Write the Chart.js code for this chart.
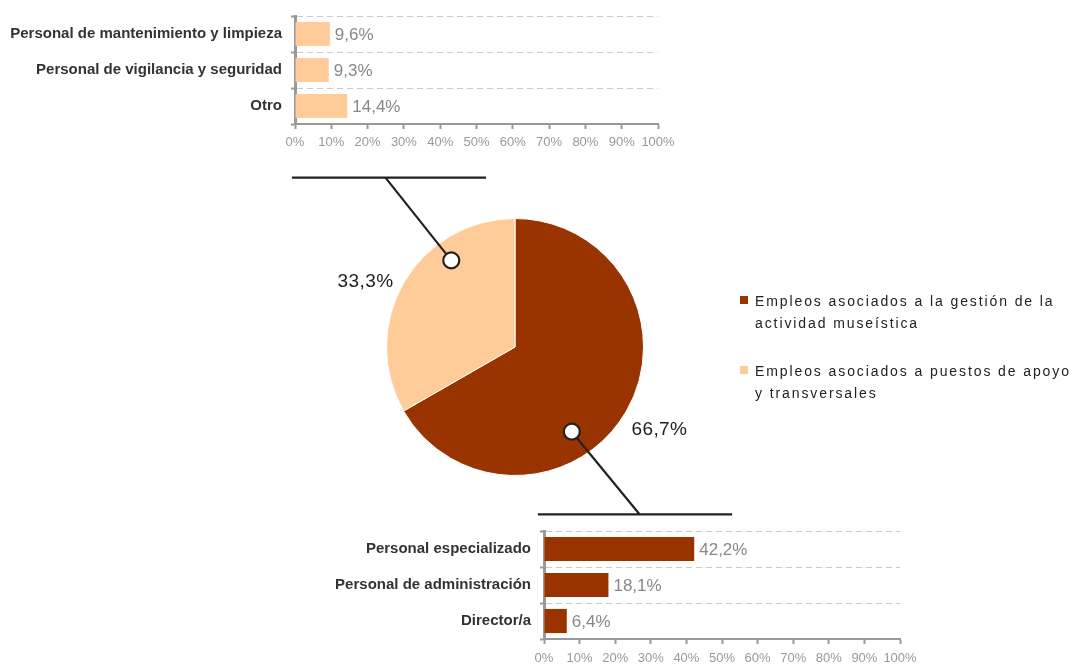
<!DOCTYPE html>
<html lang="es">

<head>
    <meta charset="UTF-8">
    <title>Empleo en museos</title>
    <style>
        * {
            margin: 0;
            padding: 0;
            box-sizing: border-box;
        }

        body {
            width: 1074px;
            height: 664px;
            overflow: hidden;
            background: #fff;
            position: relative;
            font-family: "Liberation Sans", Arial, sans-serif;
        }

        .box {
            position: absolute;
        }

        #pieBox { left: 0; top: 0; width: 1074px; height: 664px; }
        #topBox { left: 0; top: 0; width: 700px; height: 164px; }
        #bottomBox { left: 0; top: 515px; width: 950px; height: 165px; }

        #legend {
            position: absolute;
            left: 755px;
            top: 290px;
            font-size: 14px;
            line-height: 22px;
            color: #222;
            letter-spacing: 1.9px;
            white-space: nowrap;
        }

        #legend .item {
            position: relative;
            margin-bottom: 26px;
        }

        #legend .sw {
            position: absolute;
            left: -15px;
            top: 6px;
            width: 8px;
            height: 8px;
        }
    </style>
</head>

<body>
    <div class="box" id="pieBox"><canvas id="pieChart"></canvas></div>
    <div class="box" id="topBox"><canvas id="topChart"></canvas></div>
    <div class="box" id="bottomBox"><canvas id="bottomChart"></canvas></div>
    <div id="legend"></div>

    <script src="https://cdn.jsdelivr.net/npm/chart.js"></script>
    <script>
        // datos
        const topLabels = ['Personal de mantenimiento y limpieza', 'Personal de vigilancia y seguridad', 'Otro'];
        const topValues = [9.6, 9.3, 14.4];

        const bottomLabels = ['Personal especializado', 'Personal de administración', 'Director/a'];
        const bottomValues = [42.2, 18.1, 6.4];

        const pieLabels = [
            ['Empleos asociados a la gestión de la', 'actividad museística'],
            ['Empleos asociados a puestos de apoyo', 'y transversales']
        ];
        const pieValues = [66.7, 33.3];
        const pieColors = ['#993300', '#FFCC99'];

        Chart.defaults.font.family = '"Liberation Sans", Arial, sans-serif';

        const pct = v => v.toFixed(1).replace('.', ',') + '%';

        // valor al final de cada barra
        const barValues = {
            id: 'barValues',
            afterDatasetsDraw(chart) {
                const ctx = chart.ctx;
                const data = chart.data.datasets[0].data;
                ctx.save();
                ctx.font = '17px "Liberation Sans", Arial, sans-serif';
                ctx.fillStyle = '#888';
                ctx.textBaseline = 'middle';
                chart.getDatasetMeta(0).data.forEach((bar, i) => {
                    ctx.fillText(pct(data[i]), bar.x + 5, bar.y + 1);
                });
                ctx.restore();
            }
        };

        function makeBars(id, labels, values, color, yWidth, xHeight, tickPad, rightPad) {
            return new Chart(document.getElementById(id), {
                type: 'bar',
                data: {
                    labels: labels,
                    datasets: [{
                        data: values,
                        backgroundColor: color,
                        barPercentage: 0.67,
                        categoryPercentage: 1
                    }]
                },
                options: {
                    indexAxis: 'y',
                    responsive: true,
                    maintainAspectRatio: false,
                    animation: false,
                    layout: { padding: { top: 16, right: rightPad, left: 0, bottom: 0 } },
                    plugins: { legend: { display: false }, tooltip: { enabled: false } },
                    scales: {
                        x: {
                            min: 0,
                            max: 100,
                            ticks: {
                                stepSize: 10,
                                callback: v => v + '%',
                                color: '#999',
                                font: { size: 13 },
                                padding: tickPad,
                                maxRotation: 0,
                                autoSkip: false
                            },
                            grid: { drawOnChartArea: false, tickLength: 5, tickColor: '#999', tickWidth: 2 },
                            border: { color: '#999', width: 2 },
                            afterFit: s => { s.height = xHeight; }
                        },
                        y: {
                            ticks: { color: '#333', font: { size: 15, weight: 'bold' }, padding: 9 },
                            grid: { color: '#ccc', lineWidth: 1, tickColor: '#999', tickWidth: 2, tickLength: 4 },
                            border: { color: '#999', width: 3, dash: [6, 4] },
                            afterFit: s => {
                                s.width = yWidth;
                                s.paddingTop = 0;
                                s.paddingBottom = 0;
                            }
                        }
                    }
                },
                plugins: [barValues]
            });
        }

        makeBars('topChart', topLabels, topValues, pieColors[1], 295, 40, 6, 42);
        makeBars('bottomChart', bottomLabels, bottomValues, pieColors[0], 544, 41, 7, 50);

        // líneas de conexión y porcentajes (en radios, respecto al centro)
        const callouts = [
            { circle: [0.442, 0.659], elbow: [0.969, 1.302], from: 0.178, to: 1.690 },
            { circle: [-0.496, -0.674], elbow: [-1.008, -1.318], from: -1.736, to: -0.225 }
        ];
        const labelPos = [[1.124, 0.643], [-1.163, -0.504]];

        const pieDecor = {
            id: 'pieDecor',
            afterDatasetsDraw(chart) {
                const arc = chart.getDatasetMeta(0).data[0];
                const cx = arc.x, cy = arc.y, r = arc.outerRadius;
                const ctx = chart.ctx;
                ctx.save();
                ctx.strokeStyle = '#222';
                ctx.lineWidth = 2.2;
                callouts.forEach(c => {
                    ctx.beginPath();
                    ctx.moveTo(cx + c.from * r, cy + c.elbow[1] * r);
                    ctx.lineTo(cx + c.to * r, cy + c.elbow[1] * r);
                    ctx.moveTo(cx + c.elbow[0] * r, cy + c.elbow[1] * r);
                    ctx.lineTo(cx + c.circle[0] * r, cy + c.circle[1] * r);
                    ctx.stroke();
                    ctx.beginPath();
                    ctx.arc(cx + c.circle[0] * r, cy + c.circle[1] * r, 8, 0, Math.PI * 2);
                    ctx.fillStyle = '#fff';
                    ctx.fill();
                    ctx.stroke();
                });
                ctx.font = '19px "Liberation Sans", Arial, sans-serif';
                ctx.letterSpacing = '0.4px';
                ctx.fillStyle = '#222';
                ctx.textAlign = 'center';
                ctx.textBaseline = 'middle';
                pieValues.forEach((v, i) => {
                    ctx.fillText(pct(v), cx + labelPos[i][0] * r, cy + labelPos[i][1] * r);
                });
                ctx.restore();
            }
        };

        new Chart(document.getElementById('pieChart'), {
            type: 'pie',
            data: {
                labels: pieLabels,
                datasets: [{
                    data: pieValues,
                    backgroundColor: pieColors,
                    borderColor: '#fff',
                    borderWidth: 1
                }]
            },
            options: {
                responsive: true,
                maintainAspectRatio: false,
                animation: false,
                layout: { padding: { left: 386, right: 430, top: 218, bottom: 188 } },
                plugins: { legend: { display: false }, tooltip: { enabled: false } }
            },
            plugins: [pieDecor]
        });

        // leyenda
        const legend = document.getElementById('legend');
        pieLabels.forEach((lines, i) => {
            const item = document.createElement('div');
            item.className = 'item';
            const sw = document.createElement('span');
            sw.className = 'sw';
            sw.style.background = pieColors[i];
            item.appendChild(sw);
            lines.forEach(t => {
                const d = document.createElement('div');
                d.textContent = t;
                item.appendChild(d);
            });
            legend.appendChild(item);
        });
    </script>
</body>

</html>
